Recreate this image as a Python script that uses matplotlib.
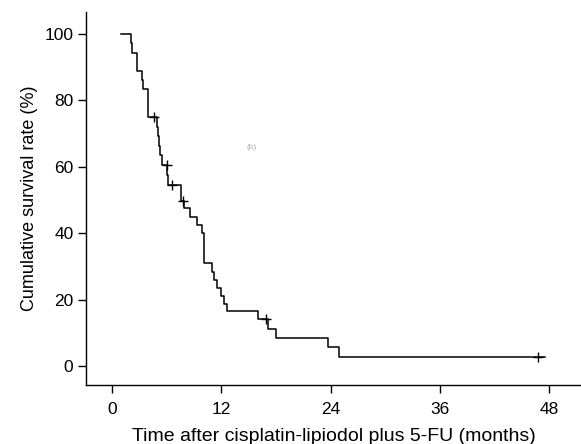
import matplotlib
matplotlib.use('Agg')
import matplotlib.pyplot as plt

plt.rcParams['font.family'] = ['Liberation Sans', 'DejaVu Sans']

# step points of the survival curve (months, % surviving after each step)
step_time = [1.0, 2.05, 2.2, 2.7, 2.75, 3.3, 3.35, 3.9, 3.95, 4.0,
             4.9, 5.0, 5.15, 5.3, 5.5, 6.05, 6.1, 7.6, 7.9, 8.6, 9.3, 9.9,
             10.05, 11.0, 11.2, 11.5, 12.0, 12.3, 12.6,
             16.0, 17.1, 18.0, 23.7, 24.9]
step_surv = [100.0, 97.2, 94.4, 91.7, 88.9, 86.1, 83.3, 80.6, 77.8, 75.0,
             72.1, 69.2, 66.3, 63.5, 60.6, 57.6, 54.5, 49.8, 47.5, 45.0, 42.5, 40.0,
             31.0, 28.4, 25.8, 23.4, 21.0, 18.8, 16.6,
             14.2, 11.2, 8.4, 5.6, 2.8]
end_time = 47.5

# censored observations
cens_time = [4.6, 6.0, 6.6, 7.75, 16.9, 46.8]
cens_surv = [75.0, 60.6, 54.5, 49.8, 14.2, 2.8]

fig = plt.figure(figsize=(5.81, 4.44), dpi=100)
ax = fig.add_axes([0.148, 0.133, 0.852, 0.84])

ax.step(step_time + [end_time], step_surv + [step_surv[-1]], where='post',
        color='black', linewidth=1.1)
ax.plot(cens_time, cens_surv, linestyle='none', marker='+', color='black',
        markersize=7, markeredgewidth=1.0)

ax.set_xlim(-2.86, 51.5)
ax.set_ylim(-5.7, 106.6)
ax.set_xticks([0, 12, 24, 36, 48])
ax.set_yticks([0, 20, 40, 60, 80, 100])
ax.tick_params(direction='out', length=6, width=1.0, labelsize=12.5, pad=3)
ax.tick_params(axis='x', pad=6)
for s in ['top', 'right']:
    ax.spines[s].set_visible(False)
for s in ['left', 'bottom']:
    ax.spines[s].set_linewidth(1.0)

ax.set_xlabel('Time after cisplatin-lipiodol plus 5-FU (months)', fontsize=14)
ax.xaxis.set_label_coords(0.5, -0.115)
ax.set_ylabel('Cumulative survival rate (%)', fontsize=13, labelpad=5)

fig.text(0.425, 0.665, '(b)', fontsize=6, color='#aaaaaa')

fig.savefig('out.png', dpi=100)
